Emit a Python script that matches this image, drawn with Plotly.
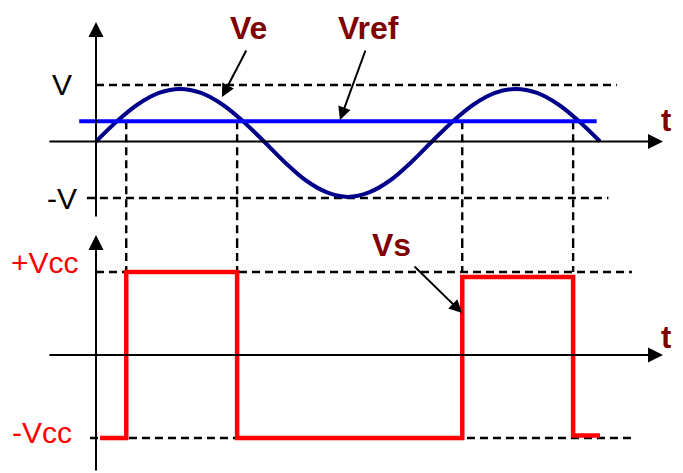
import plotly.graph_objects as go

# ---------------- data ----------------
# time axis in ms (period 20 ms), voltages normalised to V and Vcc
t_ve = [0, 1.25, 2.5, 3.75, 5, 6.25, 7.5, 8.75, 10, 11.25, 12.5, 13.75, 15,
        16.25, 17.5, 18.75, 20, 21.25, 22.5, 23.75, 25, 26.25, 27.5, 28.75, 30]
ve = [0.00, 0.36, 0.66, 0.86, 0.93, 0.86, 0.66, 0.36, 0.00, -0.37, -0.69, -0.90, -0.98,
      -0.90, -0.69, -0.37, 0.00, 0.36, 0.66, 0.86, 0.93, 0.86, 0.66, 0.36, 0.00]
vref = 0.36
vref_t = [-1.0, 29.8]

t_switch = [1.8, 8.4, 21.8, 28.4]          # comparator switching instants
t_vs = [0.24, 1.8, 8.4, 21.8, 28.4, 30.0]  # segment starts of Vs
vs = [-1.0, 1.0, -1.0, 0.94, -0.97, -0.97]

V, Vcc = 1.0, 1.0
ticks_top = ["V", "-V"]
ticks_bot = ["+Vcc", "-Vcc"]

# ---------------- figure ----------------
fig = go.Figure()
BLACK = "#000000"
MAROON = "#800000"
DASH = "8px,5px"
FONT = "Liberation Sans, Arial, sans-serif"

def line(x, y, axis, color=BLACK, width=2.4, dash=None, shape="linear"):
    fig.add_trace(go.Scatter(x=x, y=y, mode="lines", yaxis=axis, xaxis="x",
                             line=dict(color=color, width=width, dash=dash, shape=shape),
                             hoverinfo="skip", showlegend=False))

# reference dashed levels
line([0, 31.0], [V, V], "y", dash=DASH)
line([-0.54, 30.5], [-V, -V], "y", dash=DASH)
line([0, 31.9], [Vcc, Vcc], "y2", dash=DASH)
line([-0.36, 31.9], [-Vcc, -Vcc], "y2", dash=DASH)

# vertical dashed projections of the switching instants
for ts in t_switch:
    line([ts, ts], [vref, -1.743], "y", dash=DASH)
    line([ts, ts], [1.386, Vcc], "y2", dash=DASH)

# signals
line(t_ve, ve, "y", color="#00008B", width=4, shape="spline")
line(vref_t, [vref, vref], "y", color="#0000FF", width=4)
line(t_vs, vs, "y2", color="#FF0000", width=4.5, shape="hv")

ann = []

def arrow(x, y, ax, ay, yref, size=1.5):
    ann.append(dict(x=x, y=y, ax=ax, ay=ay, xref="x", yref=yref, axref="x", ayref=yref,
                    text="", showarrow=True, arrowhead=2, arrowsize=size,
                    arrowwidth=2, arrowcolor=BLACK, standoff=0, startstandoff=0))

# axes with arrow heads
arrow(33.75, 0, -2.86, 0, "y")
arrow(0, 2.115, 0, -1.354, "y")
arrow(33.75, 0, -2.86, 0, "y2")
arrow(0, 1.446, 0, -1.41, "y2")

# label pointers
arrow(7.5, 0.788, 8.99, 1.637, "y", size=1.3)
arrow(14.52, 0.38, 16.07, 1.637, "y", size=1.3)
arrow(21.79, 0.506, 18.87, 1.084, "y2", size=1.3)

def text(x, y, s, yref, color, size, bold=False):
    ann.append(dict(x=x, y=y, xref="x", yref=yref, text=f"<b>{s}</b>" if bold else s,
                    showarrow=False, xanchor="center", yanchor="middle",
                    font=dict(family=FONT, size=size, color=color)))

text(-2.0, V, ticks_top[0], "y", BLACK, 30)
text(-2.0, -V, ticks_top[1], "y", BLACK, 30)
text(-3.04, 1.12, ticks_bot[0], "y2", "#FF0000", 30)
text(-3.2, -0.93, ticks_bot[1], "y2", "#FF0000", 30)
text(9.1, 2.0, "Ve", "y", MAROON, 32, True)
text(16.2, 2.0, "Vref", "y", MAROON, 32, True)
text(17.56, 1.325, "Vs", "y2", MAROON, 32, True)
text(33.93, 0.363, "t", "y", MAROON, 31, True)
text(33.93, 0.217, "t", "y2", MAROON, 31, True)

fig.update_layout(
    width=683, height=473,
    margin=dict(l=0, r=0, t=0, b=0),
    paper_bgcolor="white", plot_bgcolor="white",
    showlegend=False,
    xaxis=dict(range=[-5.714, 34.94], visible=False, fixedrange=True),
    yaxis=dict(domain=[0.4926, 1], range=[-1.743, 2.504], visible=False, fixedrange=True),
    yaxis2=dict(domain=[0, 0.4926], range=[-1.422, 1.386], visible=False,
                anchor="x", fixedrange=True),
    annotations=ann,
)

fig.write_html("out.html", config={"displayModeBar": False},
               post_script="document.body.style.margin='0';")
